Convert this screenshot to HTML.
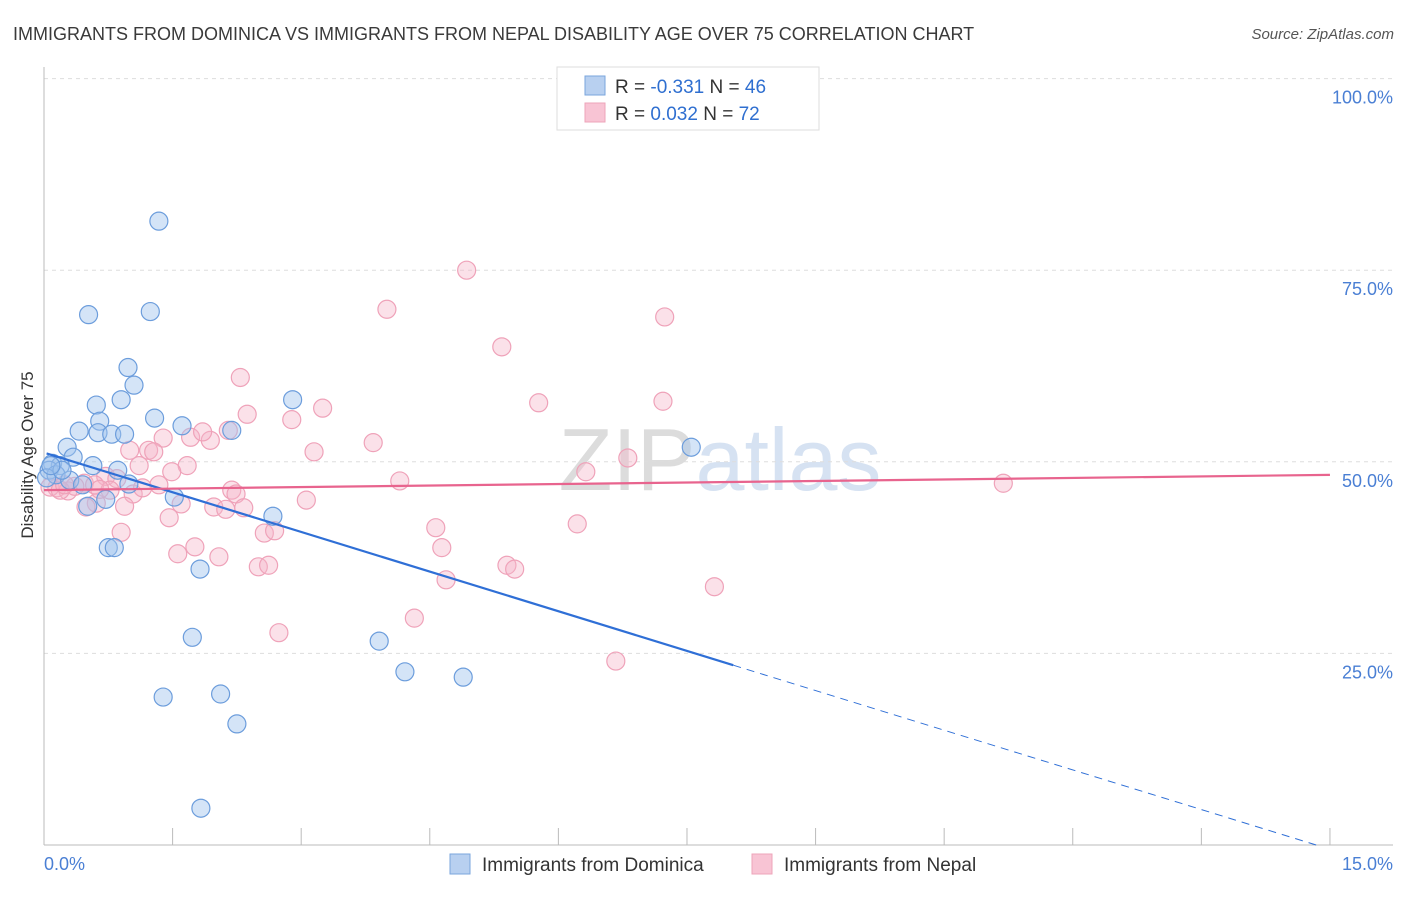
<!DOCTYPE html>
<html><head><meta charset="utf-8"><style>
body{margin:0;background:#fff;font-family:"Liberation Sans",sans-serif;}
svg text{font-family:"Liberation Sans",sans-serif;}
</style></head><body>
<svg id="chart" width="1406" height="892" xmlns="http://www.w3.org/2000/svg">
<text x="13" y="40" font-size="18" fill="#3a3a3a">IMMIGRANTS FROM DOMINICA VS IMMIGRANTS FROM NEPAL DISABILITY AGE OVER 75 CORRELATION CHART</text>
<text x="1394" y="39" font-size="15" fill="#555" text-anchor="end" font-style="italic">Source: ZipAtlas.com</text>
<text x="720" y="490" font-size="88" text-anchor="middle" fill="#e8e8ec" font-family="Liberation Serif"><tspan fill="#dcdcdc">ZIP</tspan><tspan fill="#d6e2f2" font-family="Liberation Sans">atlas</tspan></text>
<g id="grid"></g><g id="axes"></g><g id="pts"></g><g id="trend"></g>
<text transform="translate(33,455) rotate(-90)" font-size="17" fill="#333" text-anchor="middle">Disability Age Over 75</text>
<g>
<rect x="557" y="67" width="262" height="63" fill="#fff" stroke="#ddd"/>
<rect x="585" y="76" width="20" height="19" fill="#b8d0f0" stroke="#7aa6dd"/>
<rect x="585" y="103" width="20" height="19" fill="#f8c4d4" stroke="#eea4ba"/>
<text x="615" y="93" font-size="19" fill="#333">R = <tspan fill="#2f6fd0">-0.331</tspan>   N = <tspan fill="#2f6fd0">46</tspan></text>
<text x="615" y="120" font-size="19" fill="#333">R =  <tspan fill="#2f6fd0">0.032</tspan>   N = <tspan fill="#2f6fd0">72</tspan></text>
</g>
<g>
<rect x="450" y="854" width="20" height="20" fill="#b8d0f0" stroke="#7aa6dd"/>
<text x="482" y="871" font-size="19" fill="#333">Immigrants from Dominica</text>
<rect x="752" y="854" width="20" height="20" fill="#f8c4d4" stroke="#eea4ba"/>
<text x="784" y="871" font-size="19" fill="#333">Immigrants from Nepal</text>
</g>
</svg>
<script>
const blueX=[1.34,0.52,1.24,0.98,1.05,0.61,0.90,2.90,1.29,1.61,0.65,2.19,0.41,0.63,0.79,0.94,0.27,0.34,7.55,0.10,0.19,0.57,0.86,0.06,0.14,0.30,0.45,0.99,0.72,1.52,0.51,2.67,0.75,0.82,1.82,1.73,3.91,4.21,4.89,1.39,2.06,2.25,1.83,0.03,0.21,0.08];
const blueY=[81.4,69.2,69.6,62.3,60.0,57.4,58.1,58.1,55.7,54.7,55.3,54.1,54.0,53.8,53.6,53.6,51.9,50.6,51.9,49.8,49.5,49.5,48.9,48.9,48.3,47.6,47.0,47.1,45.1,45.4,44.2,42.9,38.8,38.8,36.0,27.1,26.6,22.6,21.9,19.3,19.7,15.8,4.8,47.9,48.9,49.5];
const pinkX=[4.93,4.00,7.24,5.34,2.29,5.77,7.22,3.25,2.37,2.89,3.84,3.15,1.71,1.39,1.94,1.85,1.00,1.22,1.28,1.67,1.11,1.49,4.15,6.32,6.81,11.19,0.72,0.85,0.47,0.59,0.15,0.28,0.36,0.07,0.77,1.04,1.34,2.19,2.24,3.06,1.60,1.98,2.12,2.33,0.94,0.61,0.49,1.46,4.57,6.22,0.90,2.57,2.69,4.64,1.76,1.56,2.04,5.40,5.49,2.50,2.62,4.69,7.82,4.32,2.74,6.67,0.19,0.24,0.65,1.15,2.15];
const pinkY=[75.0,69.9,68.9,65.0,61.0,57.7,57.9,57.0,56.2,55.5,52.5,51.3,53.2,53.1,52.8,53.9,51.5,51.5,51.3,49.5,49.5,48.7,47.5,48.7,50.5,47.2,48.1,47.8,47.2,47.0,46.6,46.2,46.8,46.7,46.3,45.8,47.0,46.3,45.8,45.0,44.5,44.1,43.8,44.0,44.2,44.6,44.1,42.7,41.4,41.9,40.8,40.7,41.0,38.8,38.9,38.0,37.6,36.5,36.0,36.3,36.5,34.6,33.7,29.6,27.7,24.0,46.3,47.0,46.4,46.6,54.1];
const yTicks=[25,50,75,100];
const yTickLabels=["25.0%","50.0%","75.0%","100.0%"];
const xTicks=[1.5,3,4.5,6,7.5,9,10.5,12,13.5,15];
const blueTrend=[51.2,-3.45]; const blueSolidEnd=8.04; const blueDashEnd=14.85;
const pinkTrend=[46.3,0.133];
const NS="http://www.w3.org/2000/svg";
const sx=v=>44+v*85.73, sy=v=>845-v*7.664;
function mk(tag,attrs,parent){const e=document.createElementNS(NS,tag);for(const k in attrs)e.setAttribute(k,attrs[k]);document.getElementById(parent).appendChild(e);return e;}
yTicks.forEach((t,i)=>{
 const l=mk('line',{x1:44,x2:1393,y1:sy(t),y2:sy(t),stroke:'#ddd','stroke-dasharray':'4,4'},'grid');
 
 
 const tx=mk('text',{x:1393,y:sy(t)+25,'font-size':18,fill:'#4a7fd4','text-anchor':'end'},'axes');
 tx.textContent=yTickLabels[i];
 
 
});
const ax=mk('line',{x1:44,x2:44,y1:67,y2:845,stroke:'#bbb'},'axes');


const bx=mk('line',{x1:44,x2:1393,y1:845,y2:845,stroke:'#bbb'},'axes');


xTicks.forEach(t=>{const l=mk('line',{x1:sx(t),x2:sx(t),y1:828,y2:845,stroke:'#bbb'},'axes');
 
 });
const x0=mk('text',{x:44,y:870,'font-size':18,fill:'#4a7fd4'},'axes');x0.textContent='0.0%';


const x1=mk('text',{x:1393,y:870,'font-size':18,fill:'#4a7fd4','text-anchor':'end'},'axes');x1.textContent='15.0%';


pinkX.forEach((x,i)=>{const c=mk('circle',{cx:sx(x),cy:sy(pinkY[i]),r:9,fill:'rgba(246,180,200,0.4)',stroke:'#efa2b9','stroke-width':1.2},'pts');
 
 });
blueX.forEach((x,i)=>{const c=mk('circle',{cx:sx(x),cy:sy(blueY[i]),r:9,fill:'rgba(160,195,238,0.45)',stroke:'#6c9ddc','stroke-width':1.2},'pts');
 
 });
const bt=v=>blueTrend[0]+blueTrend[1]*v;
const l1=mk('line',{x1:sx(0.03),y1:sy(bt(0.03)),x2:sx(blueSolidEnd),y2:sy(bt(blueSolidEnd)),stroke:'#2f6fd6','stroke-width':2.2},'trend');


const l2=mk('line',{x1:sx(blueSolidEnd),y1:sy(bt(blueSolidEnd)),x2:sx(blueDashEnd),y2:sy(bt(blueDashEnd)),stroke:'#2f6fd6','stroke-width':1,'stroke-dasharray':'8,6'},'trend');


const pt=v=>pinkTrend[0]+pinkTrend[1]*v;
const l3=mk('line',{x1:sx(0),y1:sy(pt(0)),x2:sx(15),y2:sy(pt(15)),stroke:'#e8648e','stroke-width':2.2},'trend');


</script>
</body></html>
